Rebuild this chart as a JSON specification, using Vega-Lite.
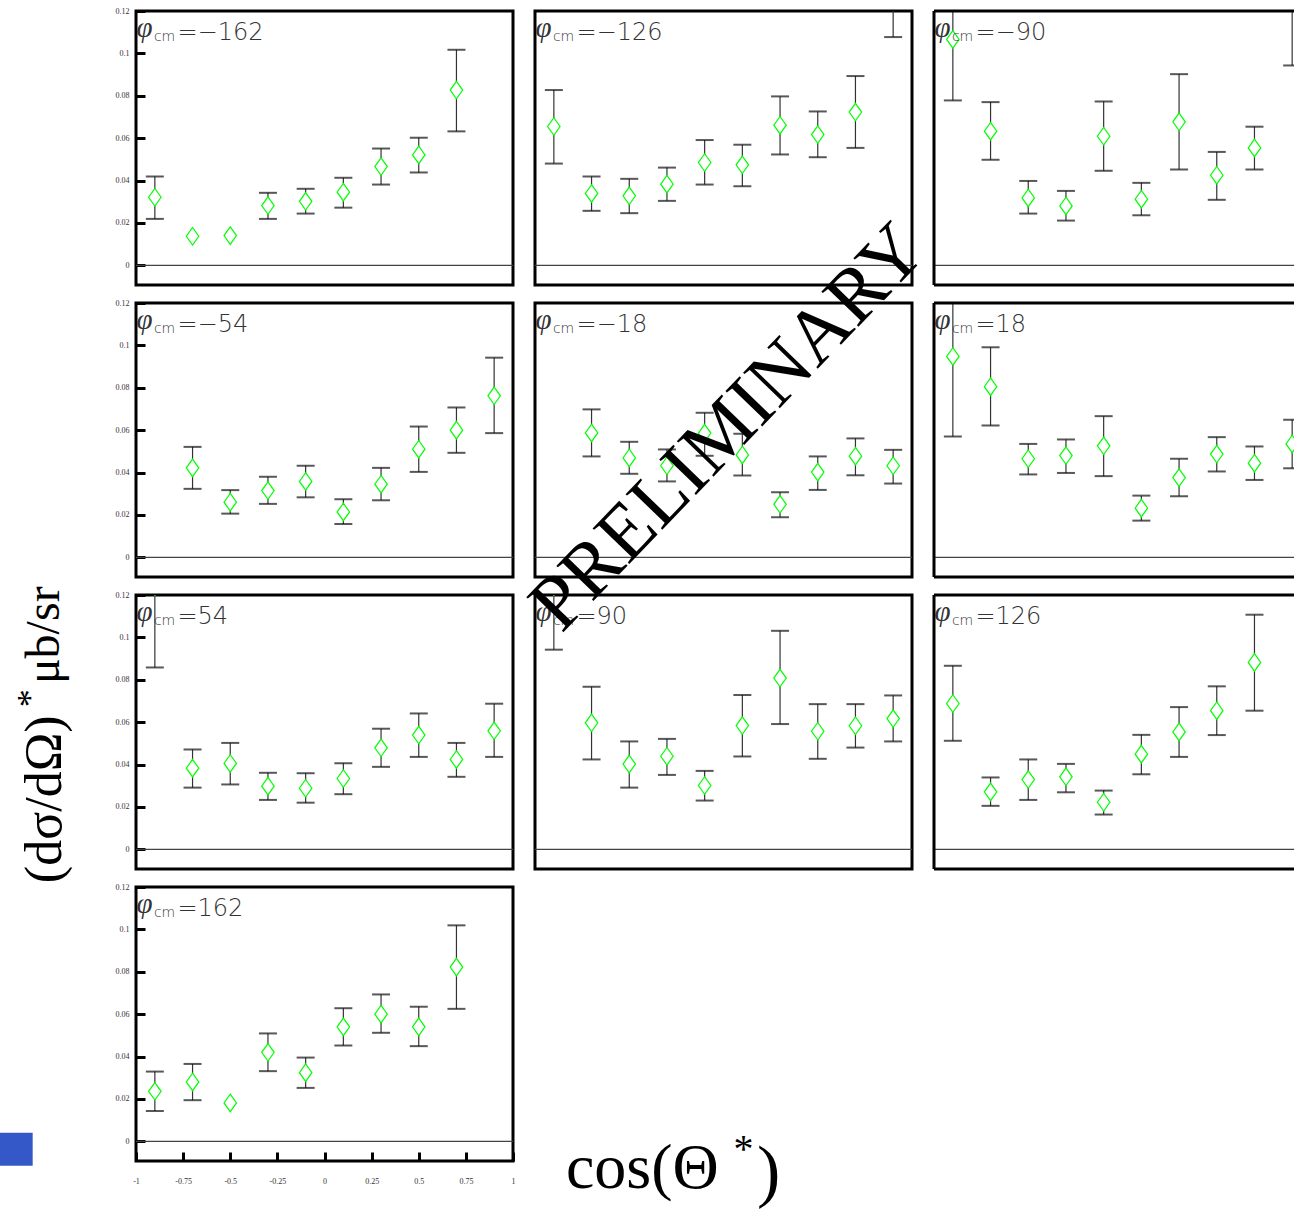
{
"$schema": "https://vega.github.io/schema/vega-lite/v6.json",
"background": "white",
"padding": {"left": -2, "top": 5, "right": 0, "bottom": 0},
"config": {"view": {"stroke": "#000", "strokeWidth": 3}},
"datasets": {"pts": [
{"phi": -162, "c": -0.9, "v": 0.0321, "lo": 0.0219, "hi": 0.0419},
{"phi": -162, "c": -0.7, "v": 0.0137, "lo": null, "hi": null},
{"phi": -162, "c": -0.5, "v": 0.014, "lo": null, "hi": null},
{"phi": -162, "c": -0.3, "v": 0.0282, "lo": 0.0219, "hi": 0.0342},
{"phi": -162, "c": -0.1, "v": 0.0302, "lo": 0.0244, "hi": 0.0361},
{"phi": -162, "c": 0.1, "v": 0.0345, "lo": 0.0272, "hi": 0.0413},
{"phi": -162, "c": 0.3, "v": 0.0466, "lo": 0.0381, "hi": 0.0551},
{"phi": -162, "c": 0.5, "v": 0.0521, "lo": 0.0438, "hi": 0.0602},
{"phi": -162, "c": 0.7, "v": 0.0827, "lo": 0.0632, "hi": 0.1017},
{"phi": -126, "c": -0.9, "v": 0.0655, "lo": 0.048, "hi": 0.0827},
{"phi": -126, "c": -0.7, "v": 0.0339, "lo": 0.0257, "hi": 0.0419},
{"phi": -126, "c": -0.5, "v": 0.0328, "lo": 0.0246, "hi": 0.0408},
{"phi": -126, "c": -0.3, "v": 0.0383, "lo": 0.0304, "hi": 0.0461},
{"phi": -126, "c": -0.1, "v": 0.0485, "lo": 0.0381, "hi": 0.0591},
{"phi": -126, "c": 0.1, "v": 0.0474, "lo": 0.0373, "hi": 0.0569},
{"phi": -126, "c": 0.3, "v": 0.0661, "lo": 0.0523, "hi": 0.0797},
{"phi": -126, "c": 0.5, "v": 0.0617, "lo": 0.051, "hi": 0.0726},
{"phi": -126, "c": 0.7, "v": 0.0723, "lo": 0.0554, "hi": 0.0893},
{"phi": -126, "c": 0.9, "v": 0.13, "lo": 0.1077, "hi": 0.152},
{"phi": -90, "c": -0.9, "v": 0.1066, "lo": 0.0778, "hi": 0.1354},
{"phi": -90, "c": -0.7, "v": 0.0633, "lo": 0.0498, "hi": 0.077},
{"phi": -90, "c": -0.5, "v": 0.0318, "lo": 0.0244, "hi": 0.0398},
{"phi": -90, "c": -0.3, "v": 0.028, "lo": 0.0211, "hi": 0.0351},
{"phi": -90, "c": -0.1, "v": 0.0609, "lo": 0.0446, "hi": 0.0773},
{"phi": -90, "c": 0.1, "v": 0.0312, "lo": 0.0236, "hi": 0.0389},
{"phi": -90, "c": 0.3, "v": 0.0677, "lo": 0.0452, "hi": 0.0902},
{"phi": -90, "c": 0.5, "v": 0.0425, "lo": 0.0309, "hi": 0.0535},
{"phi": -90, "c": 0.7, "v": 0.0554, "lo": 0.0452, "hi": 0.0654},
{"phi": -90, "c": 0.9, "v": 0.125, "lo": 0.0943, "hi": 0.1557},
{"phi": -54, "c": -0.7, "v": 0.0422, "lo": 0.0323, "hi": 0.0521},
{"phi": -54, "c": -0.5, "v": 0.026, "lo": 0.0206, "hi": 0.0317},
{"phi": -54, "c": -0.3, "v": 0.0315, "lo": 0.0252, "hi": 0.038},
{"phi": -54, "c": -0.1, "v": 0.0358, "lo": 0.0283, "hi": 0.0432},
{"phi": -54, "c": 0.1, "v": 0.0214, "lo": 0.0157, "hi": 0.0274},
{"phi": -54, "c": 0.3, "v": 0.0345, "lo": 0.0269, "hi": 0.0422},
{"phi": -54, "c": 0.5, "v": 0.051, "lo": 0.0403, "hi": 0.0617},
{"phi": -54, "c": 0.7, "v": 0.06, "lo": 0.0493, "hi": 0.0707},
{"phi": -54, "c": 0.9, "v": 0.0762, "lo": 0.0586, "hi": 0.0942},
{"phi": -18, "c": -0.7, "v": 0.0587, "lo": 0.0476, "hi": 0.0698},
{"phi": -18, "c": -0.5, "v": 0.0469, "lo": 0.0394, "hi": 0.0545},
{"phi": -18, "c": -0.3, "v": 0.0432, "lo": 0.0358, "hi": 0.0509},
{"phi": -18, "c": -0.1, "v": 0.0586, "lo": 0.0479, "hi": 0.0682},
{"phi": -18, "c": 0.1, "v": 0.0483, "lo": 0.0386, "hi": 0.0583},
{"phi": -18, "c": 0.3, "v": 0.025, "lo": 0.0189, "hi": 0.0307},
{"phi": -18, "c": 0.5, "v": 0.0402, "lo": 0.0318, "hi": 0.0476},
{"phi": -18, "c": 0.7, "v": 0.0477, "lo": 0.0387, "hi": 0.0561},
{"phi": -18, "c": 0.9, "v": 0.0432, "lo": 0.0348, "hi": 0.0507},
{"phi": 18, "c": -0.9, "v": 0.0948, "lo": 0.057, "hi": 0.1326},
{"phi": 18, "c": -0.7, "v": 0.0805, "lo": 0.0622, "hi": 0.0991},
{"phi": 18, "c": -0.5, "v": 0.0465, "lo": 0.0391, "hi": 0.0535},
{"phi": 18, "c": -0.3, "v": 0.048, "lo": 0.0398, "hi": 0.0556},
{"phi": 18, "c": -0.1, "v": 0.0526, "lo": 0.0383, "hi": 0.0666},
{"phi": 18, "c": 0.1, "v": 0.0232, "lo": 0.0173, "hi": 0.0291},
{"phi": 18, "c": 0.3, "v": 0.0376, "lo": 0.0288, "hi": 0.0465},
{"phi": 18, "c": 0.5, "v": 0.0487, "lo": 0.0405, "hi": 0.0567},
{"phi": 18, "c": 0.7, "v": 0.0444, "lo": 0.0365, "hi": 0.0523},
{"phi": 18, "c": 0.9, "v": 0.0535, "lo": 0.042, "hi": 0.0649},
{"phi": 54, "c": -0.9, "v": 0.124, "lo": 0.0858, "hi": 0.162},
{"phi": 54, "c": -0.7, "v": 0.0383, "lo": 0.0291, "hi": 0.0471},
{"phi": 54, "c": -0.5, "v": 0.0405, "lo": 0.0306, "hi": 0.0502},
{"phi": 54, "c": -0.3, "v": 0.0298, "lo": 0.0233, "hi": 0.0361},
{"phi": 54, "c": -0.1, "v": 0.0288, "lo": 0.022, "hi": 0.0359},
{"phi": 54, "c": 0.1, "v": 0.0334, "lo": 0.026, "hi": 0.0406},
{"phi": 54, "c": 0.3, "v": 0.0479, "lo": 0.0389, "hi": 0.0569},
{"phi": 54, "c": 0.5, "v": 0.0539, "lo": 0.0436, "hi": 0.0641},
{"phi": 54, "c": 0.7, "v": 0.0424, "lo": 0.0342, "hi": 0.0502},
{"phi": 54, "c": 0.9, "v": 0.0559, "lo": 0.0436, "hi": 0.0687},
{"phi": 90, "c": -0.9, "v": 0.124, "lo": 0.0942, "hi": 0.154},
{"phi": 90, "c": -0.7, "v": 0.0597, "lo": 0.0424, "hi": 0.0767},
{"phi": 90, "c": -0.5, "v": 0.0402, "lo": 0.0291, "hi": 0.0509},
{"phi": 90, "c": -0.3, "v": 0.0439, "lo": 0.0351, "hi": 0.0521},
{"phi": 90, "c": -0.1, "v": 0.0301, "lo": 0.023, "hi": 0.037},
{"phi": 90, "c": 0.1, "v": 0.0584, "lo": 0.0438, "hi": 0.0728},
{"phi": 90, "c": 0.3, "v": 0.0808, "lo": 0.0591, "hi": 0.1031},
{"phi": 90, "c": 0.5, "v": 0.0557, "lo": 0.0427, "hi": 0.0685},
{"phi": 90, "c": 0.7, "v": 0.0583, "lo": 0.048, "hi": 0.0685},
{"phi": 90, "c": 0.9, "v": 0.0617, "lo": 0.0509, "hi": 0.0726},
{"phi": 126, "c": -0.9, "v": 0.0688, "lo": 0.0512, "hi": 0.0866},
{"phi": 126, "c": -0.7, "v": 0.0271, "lo": 0.0205, "hi": 0.0339},
{"phi": 126, "c": -0.5, "v": 0.0329, "lo": 0.0233, "hi": 0.0424},
{"phi": 126, "c": -0.3, "v": 0.0342, "lo": 0.0269, "hi": 0.0403},
{"phi": 126, "c": -0.1, "v": 0.0222, "lo": 0.0164, "hi": 0.0277},
{"phi": 126, "c": 0.1, "v": 0.0449, "lo": 0.0354, "hi": 0.054},
{"phi": 126, "c": 0.3, "v": 0.0554, "lo": 0.0436, "hi": 0.0671},
{"phi": 126, "c": 0.5, "v": 0.0654, "lo": 0.0539, "hi": 0.0769},
{"phi": 126, "c": 0.7, "v": 0.0882, "lo": 0.0654, "hi": 0.1107},
{"phi": 162, "c": -0.9, "v": 0.0236, "lo": 0.0143, "hi": 0.0329},
{"phi": 162, "c": -0.7, "v": 0.028, "lo": 0.0194, "hi": 0.0365},
{"phi": 162, "c": -0.5, "v": 0.0181, "lo": null, "hi": null},
{"phi": 162, "c": -0.3, "v": 0.042, "lo": 0.0331, "hi": 0.0509},
{"phi": 162, "c": -0.1, "v": 0.0324, "lo": 0.0252, "hi": 0.0395},
{"phi": 162, "c": 0.1, "v": 0.054, "lo": 0.0452, "hi": 0.0628},
{"phi": 162, "c": 0.3, "v": 0.06, "lo": 0.0512, "hi": 0.0693},
{"phi": 162, "c": 0.5, "v": 0.054, "lo": 0.0449, "hi": 0.0635},
{"phi": 162, "c": 0.7, "v": 0.0822, "lo": 0.0625, "hi": 0.1019}
]},
"columns": 3,
"spacing": {"row": 18, "column": 22},
"bounds": "flush",
"concat": [
{"width": 377, "height": 274, "layer": [
 {"data": {"values": [{}]}, "mark": {"type": "rule", "color": "#444", "strokeWidth": 1.2, "clip": true},
  "encoding": {"x": {"datum": -1, "type": "quantitative", "scale": {"domain": [-1, 1], "nice": false, "zero": false}, "axis": null}, "x2": {"datum": 1},
   "y": {"datum": 0, "type": "quantitative", "scale": {"domain": [-0.0093, 0.12], "nice": false, "zero": false}, "axis": {"values": [0, 0.02, 0.04, 0.06, 0.08, 0.1, 0.12], "title": null, "domain": false, "grid": false, "tickSize": -9, "tickWidth": 3, "tickColor": "#000", "labelFont": "Liberation Serif", "labelFontSize": 8, "labelColor": "#333", "labelPadding": 16, "labelOverlap": false, "labelExpr": "'' + datum.value"}}}},
 {"data": {"name": "pts"}, "transform": [{"filter": "datum.phi == -162"}], "mark": {"type": "rule", "color": "#333", "strokeWidth": 1.2, "clip": true},
  "encoding": {"x": {"field": "c", "type": "quantitative", "scale": {"domain": [-1, 1], "nice": false, "zero": false}, "axis": null}, "y": {"field": "lo", "type": "quantitative", "scale": {"domain": [-0.0093, 0.12], "nice": false, "zero": false}, "axis": {"values": [0, 0.02, 0.04, 0.06, 0.08, 0.1, 0.12], "title": null, "domain": false, "grid": false, "tickSize": -9, "tickWidth": 3, "tickColor": "#000", "labelFont": "Liberation Serif", "labelFontSize": 8, "labelColor": "#333", "labelPadding": 16, "labelOverlap": false, "labelExpr": "'' + datum.value"}}, "y2": {"field": "hi"}}},
 {"data": {"name": "pts"}, "transform": [{"filter": "datum.phi == -162"}], "mark": {"type": "tick", "orient": "horizontal", "size": 18, "thickness": 2, "color": "#111", "clip": true},
  "encoding": {"x": {"field": "c", "type": "quantitative", "scale": {"domain": [-1, 1], "nice": false, "zero": false}, "axis": null}, "y": {"field": "lo", "type": "quantitative", "scale": {"domain": [-0.0093, 0.12], "nice": false, "zero": false}, "axis": {"values": [0, 0.02, 0.04, 0.06, 0.08, 0.1, 0.12], "title": null, "domain": false, "grid": false, "tickSize": -9, "tickWidth": 3, "tickColor": "#000", "labelFont": "Liberation Serif", "labelFontSize": 8, "labelColor": "#333", "labelPadding": 16, "labelOverlap": false, "labelExpr": "'' + datum.value"}}}},
 {"data": {"name": "pts"}, "transform": [{"filter": "datum.phi == -162"}], "mark": {"type": "tick", "orient": "horizontal", "size": 18, "thickness": 2, "color": "#111", "clip": true},
  "encoding": {"x": {"field": "c", "type": "quantitative", "scale": {"domain": [-1, 1], "nice": false, "zero": false}, "axis": null}, "y": {"field": "hi", "type": "quantitative", "scale": {"domain": [-0.0093, 0.12], "nice": false, "zero": false}, "axis": {"values": [0, 0.02, 0.04, 0.06, 0.08, 0.1, 0.12], "title": null, "domain": false, "grid": false, "tickSize": -9, "tickWidth": 3, "tickColor": "#000", "labelFont": "Liberation Serif", "labelFontSize": 8, "labelColor": "#333", "labelPadding": 16, "labelOverlap": false, "labelExpr": "'' + datum.value"}}}},
 {"data": {"name": "pts"}, "transform": [{"filter": "datum.phi == -162"}], "mark": {"type": "point", "shape": "M0,-1.4L1,0L0,1.4L-1,0Z", "size": 156, "filled": true, "fill": "white", "stroke": "#00ff00", "strokeWidth": 1.2, "opacity": 1, "clip": true},
  "encoding": {"x": {"field": "c", "type": "quantitative", "scale": {"domain": [-1, 1], "nice": false, "zero": false}, "axis": null}, "y": {"field": "v", "type": "quantitative", "scale": {"domain": [-0.0093, 0.12], "nice": false, "zero": false}, "axis": {"values": [0, 0.02, 0.04, 0.06, 0.08, 0.1, 0.12], "title": null, "domain": false, "grid": false, "tickSize": -9, "tickWidth": 3, "tickColor": "#000", "labelFont": "Liberation Serif", "labelFontSize": 8, "labelColor": "#333", "labelPadding": 16, "labelOverlap": false, "labelExpr": "'' + datum.value"}}}},
 {"data": {"values": [{}]}, "mark": {"type": "text", "text": "φ", "font": "Liberation Serif", "fontStyle": "italic", "fontSize": 29, "align": "left", "baseline": "alphabetic", "color": "#333"},
  "encoding": {"x": {"datum": -0.997, "type": "quantitative", "scale": {"domain": [-1, 1], "nice": false, "zero": false}, "axis": null}, "y": {"datum": 0.1075, "type": "quantitative", "scale": {"domain": [-0.0093, 0.12], "nice": false, "zero": false}, "axis": {"values": [0, 0.02, 0.04, 0.06, 0.08, 0.1, 0.12], "title": null, "domain": false, "grid": false, "tickSize": -9, "tickWidth": 3, "tickColor": "#000", "labelFont": "Liberation Serif", "labelFontSize": 8, "labelColor": "#333", "labelPadding": 16, "labelOverlap": false, "labelExpr": "'' + datum.value"}}}},
 {"data": {"values": [{}]}, "mark": {"type": "text", "text": "cm", "font": "DejaVu Sans", "fontWeight": 200, "fontSize": 14, "align": "left", "baseline": "alphabetic", "color": "#333"},
  "encoding": {"x": {"datum": -0.905, "type": "quantitative", "scale": {"domain": [-1, 1], "nice": false, "zero": false}, "axis": null}, "y": {"datum": 0.1058, "type": "quantitative", "scale": {"domain": [-0.0093, 0.12], "nice": false, "zero": false}, "axis": {"values": [0, 0.02, 0.04, 0.06, 0.08, 0.1, 0.12], "title": null, "domain": false, "grid": false, "tickSize": -9, "tickWidth": 3, "tickColor": "#000", "labelFont": "Liberation Serif", "labelFontSize": 8, "labelColor": "#333", "labelPadding": 16, "labelOverlap": false, "labelExpr": "'' + datum.value"}}}},
 {"data": {"values": [{}]}, "mark": {"type": "text", "text": "=−162", "font": "DejaVu Sans", "fontWeight": 200, "fontSize": 24, "align": "left", "baseline": "alphabetic", "color": "#333"},
  "encoding": {"x": {"datum": -0.78, "type": "quantitative", "scale": {"domain": [-1, 1], "nice": false, "zero": false}, "axis": null}, "y": {"datum": 0.1062, "type": "quantitative", "scale": {"domain": [-0.0093, 0.12], "nice": false, "zero": false}, "axis": {"values": [0, 0.02, 0.04, 0.06, 0.08, 0.1, 0.12], "title": null, "domain": false, "grid": false, "tickSize": -9, "tickWidth": 3, "tickColor": "#000", "labelFont": "Liberation Serif", "labelFontSize": 8, "labelColor": "#333", "labelPadding": 16, "labelOverlap": false, "labelExpr": "'' + datum.value"}}}}
]},
{"width": 377, "height": 274, "layer": [
 {"data": {"values": [{}]}, "mark": {"type": "rule", "color": "#444", "strokeWidth": 1.2, "clip": true},
  "encoding": {"x": {"datum": -1, "type": "quantitative", "scale": {"domain": [-1, 1], "nice": false, "zero": false}, "axis": null}, "x2": {"datum": 1},
   "y": {"datum": 0, "type": "quantitative", "scale": {"domain": [-0.0093, 0.12], "nice": false, "zero": false}, "axis": null}}},
 {"data": {"name": "pts"}, "transform": [{"filter": "datum.phi == -126"}], "mark": {"type": "rule", "color": "#333", "strokeWidth": 1.2, "clip": true},
  "encoding": {"x": {"field": "c", "type": "quantitative", "scale": {"domain": [-1, 1], "nice": false, "zero": false}, "axis": null}, "y": {"field": "lo", "type": "quantitative", "scale": {"domain": [-0.0093, 0.12], "nice": false, "zero": false}, "axis": null}, "y2": {"field": "hi"}}},
 {"data": {"name": "pts"}, "transform": [{"filter": "datum.phi == -126"}], "mark": {"type": "tick", "orient": "horizontal", "size": 18, "thickness": 2, "color": "#111", "clip": true},
  "encoding": {"x": {"field": "c", "type": "quantitative", "scale": {"domain": [-1, 1], "nice": false, "zero": false}, "axis": null}, "y": {"field": "lo", "type": "quantitative", "scale": {"domain": [-0.0093, 0.12], "nice": false, "zero": false}, "axis": null}}},
 {"data": {"name": "pts"}, "transform": [{"filter": "datum.phi == -126"}], "mark": {"type": "tick", "orient": "horizontal", "size": 18, "thickness": 2, "color": "#111", "clip": true},
  "encoding": {"x": {"field": "c", "type": "quantitative", "scale": {"domain": [-1, 1], "nice": false, "zero": false}, "axis": null}, "y": {"field": "hi", "type": "quantitative", "scale": {"domain": [-0.0093, 0.12], "nice": false, "zero": false}, "axis": null}}},
 {"data": {"name": "pts"}, "transform": [{"filter": "datum.phi == -126"}], "mark": {"type": "point", "shape": "M0,-1.4L1,0L0,1.4L-1,0Z", "size": 156, "filled": true, "fill": "white", "stroke": "#00ff00", "strokeWidth": 1.2, "opacity": 1, "clip": true},
  "encoding": {"x": {"field": "c", "type": "quantitative", "scale": {"domain": [-1, 1], "nice": false, "zero": false}, "axis": null}, "y": {"field": "v", "type": "quantitative", "scale": {"domain": [-0.0093, 0.12], "nice": false, "zero": false}, "axis": null}}},
 {"data": {"values": [{}]}, "mark": {"type": "text", "text": "φ", "font": "Liberation Serif", "fontStyle": "italic", "fontSize": 29, "align": "left", "baseline": "alphabetic", "color": "#333"},
  "encoding": {"x": {"datum": -0.997, "type": "quantitative", "scale": {"domain": [-1, 1], "nice": false, "zero": false}, "axis": null}, "y": {"datum": 0.1075, "type": "quantitative", "scale": {"domain": [-0.0093, 0.12], "nice": false, "zero": false}, "axis": null}}},
 {"data": {"values": [{}]}, "mark": {"type": "text", "text": "cm", "font": "DejaVu Sans", "fontWeight": 200, "fontSize": 14, "align": "left", "baseline": "alphabetic", "color": "#333"},
  "encoding": {"x": {"datum": -0.905, "type": "quantitative", "scale": {"domain": [-1, 1], "nice": false, "zero": false}, "axis": null}, "y": {"datum": 0.1058, "type": "quantitative", "scale": {"domain": [-0.0093, 0.12], "nice": false, "zero": false}, "axis": null}}},
 {"data": {"values": [{}]}, "mark": {"type": "text", "text": "=−126", "font": "DejaVu Sans", "fontWeight": 200, "fontSize": 24, "align": "left", "baseline": "alphabetic", "color": "#333"},
  "encoding": {"x": {"datum": -0.78, "type": "quantitative", "scale": {"domain": [-1, 1], "nice": false, "zero": false}, "axis": null}, "y": {"datum": 0.1062, "type": "quantitative", "scale": {"domain": [-0.0093, 0.12], "nice": false, "zero": false}, "axis": null}}}
]},
{"width": 361, "height": 274, "view": {"stroke": null}, "layer": [
 {"data": {"values": [{}]}, "mark": {"type": "rule", "color": "#444", "strokeWidth": 1.2, "clip": true},
  "encoding": {"x": {"datum": -1, "type": "quantitative", "scale": {"domain": [-1, 0.915], "nice": false, "zero": false}, "axis": null}, "x2": {"datum": 1},
   "y": {"datum": 0, "type": "quantitative", "scale": {"domain": [-0.0093, 0.12], "nice": false, "zero": false}, "axis": null}}},
 {"data": {"name": "pts"}, "transform": [{"filter": "datum.phi == -90"}], "mark": {"type": "rule", "color": "#333", "strokeWidth": 1.2, "clip": true},
  "encoding": {"x": {"field": "c", "type": "quantitative", "scale": {"domain": [-1, 0.915], "nice": false, "zero": false}, "axis": null}, "y": {"field": "lo", "type": "quantitative", "scale": {"domain": [-0.0093, 0.12], "nice": false, "zero": false}, "axis": null}, "y2": {"field": "hi"}}},
 {"data": {"name": "pts"}, "transform": [{"filter": "datum.phi == -90"}], "mark": {"type": "tick", "orient": "horizontal", "size": 18, "thickness": 2, "color": "#111", "clip": true},
  "encoding": {"x": {"field": "c", "type": "quantitative", "scale": {"domain": [-1, 0.915], "nice": false, "zero": false}, "axis": null}, "y": {"field": "lo", "type": "quantitative", "scale": {"domain": [-0.0093, 0.12], "nice": false, "zero": false}, "axis": null}}},
 {"data": {"name": "pts"}, "transform": [{"filter": "datum.phi == -90"}], "mark": {"type": "tick", "orient": "horizontal", "size": 18, "thickness": 2, "color": "#111", "clip": true},
  "encoding": {"x": {"field": "c", "type": "quantitative", "scale": {"domain": [-1, 0.915], "nice": false, "zero": false}, "axis": null}, "y": {"field": "hi", "type": "quantitative", "scale": {"domain": [-0.0093, 0.12], "nice": false, "zero": false}, "axis": null}}},
 {"data": {"name": "pts"}, "transform": [{"filter": "datum.phi == -90"}], "mark": {"type": "point", "shape": "M0,-1.4L1,0L0,1.4L-1,0Z", "size": 156, "filled": true, "fill": "white", "stroke": "#00ff00", "strokeWidth": 1.2, "opacity": 1, "clip": true},
  "encoding": {"x": {"field": "c", "type": "quantitative", "scale": {"domain": [-1, 0.915], "nice": false, "zero": false}, "axis": null}, "y": {"field": "v", "type": "quantitative", "scale": {"domain": [-0.0093, 0.12], "nice": false, "zero": false}, "axis": null}}},
 {"data": {"values": [{}]}, "mark": {"type": "text", "text": "φ", "font": "Liberation Serif", "fontStyle": "italic", "fontSize": 29, "align": "left", "baseline": "alphabetic", "color": "#333"},
  "encoding": {"x": {"datum": -0.997, "type": "quantitative", "scale": {"domain": [-1, 0.915], "nice": false, "zero": false}, "axis": null}, "y": {"datum": 0.1075, "type": "quantitative", "scale": {"domain": [-0.0093, 0.12], "nice": false, "zero": false}, "axis": null}}},
 {"data": {"values": [{}]}, "mark": {"type": "text", "text": "cm", "font": "DejaVu Sans", "fontWeight": 200, "fontSize": 14, "align": "left", "baseline": "alphabetic", "color": "#333"},
  "encoding": {"x": {"datum": -0.905, "type": "quantitative", "scale": {"domain": [-1, 0.915], "nice": false, "zero": false}, "axis": null}, "y": {"datum": 0.1058, "type": "quantitative", "scale": {"domain": [-0.0093, 0.12], "nice": false, "zero": false}, "axis": null}}},
 {"data": {"values": [{}]}, "mark": {"type": "text", "text": "=−90", "font": "DejaVu Sans", "fontWeight": 200, "fontSize": 24, "align": "left", "baseline": "alphabetic", "color": "#333"},
  "encoding": {"x": {"datum": -0.78, "type": "quantitative", "scale": {"domain": [-1, 0.915], "nice": false, "zero": false}, "axis": null}, "y": {"datum": 0.1062, "type": "quantitative", "scale": {"domain": [-0.0093, 0.12], "nice": false, "zero": false}, "axis": null}}},
 {"data": {"values": [{}]}, "mark": {"type": "rule", "color": "#000", "strokeWidth": 3},
  "encoding": {"y": {"datum": 0.12, "type": "quantitative", "scale": {"domain": [-0.0093, 0.12], "nice": false, "zero": false}, "axis": null}}},
 {"data": {"values": [{}]}, "mark": {"type": "rule", "color": "#000", "strokeWidth": 3},
  "encoding": {"y": {"datum": -0.0093, "type": "quantitative", "scale": {"domain": [-0.0093, 0.12], "nice": false, "zero": false}, "axis": null}}},
 {"data": {"values": [{}]}, "mark": {"type": "rule", "color": "#000", "strokeWidth": 3},
  "encoding": {"x": {"datum": -1, "type": "quantitative", "scale": {"domain": [-1, 0.915], "nice": false, "zero": false}, "axis": null}}}
]},
{"width": 377, "height": 274, "layer": [
 {"data": {"values": [{}]}, "mark": {"type": "rule", "color": "#444", "strokeWidth": 1.2, "clip": true},
  "encoding": {"x": {"datum": -1, "type": "quantitative", "scale": {"domain": [-1, 1], "nice": false, "zero": false}, "axis": null}, "x2": {"datum": 1},
   "y": {"datum": 0, "type": "quantitative", "scale": {"domain": [-0.0093, 0.12], "nice": false, "zero": false}, "axis": {"values": [0, 0.02, 0.04, 0.06, 0.08, 0.1, 0.12], "title": null, "domain": false, "grid": false, "tickSize": -9, "tickWidth": 3, "tickColor": "#000", "labelFont": "Liberation Serif", "labelFontSize": 8, "labelColor": "#333", "labelPadding": 16, "labelOverlap": false, "labelExpr": "'' + datum.value"}}}},
 {"data": {"name": "pts"}, "transform": [{"filter": "datum.phi == -54"}], "mark": {"type": "rule", "color": "#333", "strokeWidth": 1.2, "clip": true},
  "encoding": {"x": {"field": "c", "type": "quantitative", "scale": {"domain": [-1, 1], "nice": false, "zero": false}, "axis": null}, "y": {"field": "lo", "type": "quantitative", "scale": {"domain": [-0.0093, 0.12], "nice": false, "zero": false}, "axis": {"values": [0, 0.02, 0.04, 0.06, 0.08, 0.1, 0.12], "title": null, "domain": false, "grid": false, "tickSize": -9, "tickWidth": 3, "tickColor": "#000", "labelFont": "Liberation Serif", "labelFontSize": 8, "labelColor": "#333", "labelPadding": 16, "labelOverlap": false, "labelExpr": "'' + datum.value"}}, "y2": {"field": "hi"}}},
 {"data": {"name": "pts"}, "transform": [{"filter": "datum.phi == -54"}], "mark": {"type": "tick", "orient": "horizontal", "size": 18, "thickness": 2, "color": "#111", "clip": true},
  "encoding": {"x": {"field": "c", "type": "quantitative", "scale": {"domain": [-1, 1], "nice": false, "zero": false}, "axis": null}, "y": {"field": "lo", "type": "quantitative", "scale": {"domain": [-0.0093, 0.12], "nice": false, "zero": false}, "axis": {"values": [0, 0.02, 0.04, 0.06, 0.08, 0.1, 0.12], "title": null, "domain": false, "grid": false, "tickSize": -9, "tickWidth": 3, "tickColor": "#000", "labelFont": "Liberation Serif", "labelFontSize": 8, "labelColor": "#333", "labelPadding": 16, "labelOverlap": false, "labelExpr": "'' + datum.value"}}}},
 {"data": {"name": "pts"}, "transform": [{"filter": "datum.phi == -54"}], "mark": {"type": "tick", "orient": "horizontal", "size": 18, "thickness": 2, "color": "#111", "clip": true},
  "encoding": {"x": {"field": "c", "type": "quantitative", "scale": {"domain": [-1, 1], "nice": false, "zero": false}, "axis": null}, "y": {"field": "hi", "type": "quantitative", "scale": {"domain": [-0.0093, 0.12], "nice": false, "zero": false}, "axis": {"values": [0, 0.02, 0.04, 0.06, 0.08, 0.1, 0.12], "title": null, "domain": false, "grid": false, "tickSize": -9, "tickWidth": 3, "tickColor": "#000", "labelFont": "Liberation Serif", "labelFontSize": 8, "labelColor": "#333", "labelPadding": 16, "labelOverlap": false, "labelExpr": "'' + datum.value"}}}},
 {"data": {"name": "pts"}, "transform": [{"filter": "datum.phi == -54"}], "mark": {"type": "point", "shape": "M0,-1.4L1,0L0,1.4L-1,0Z", "size": 156, "filled": true, "fill": "white", "stroke": "#00ff00", "strokeWidth": 1.2, "opacity": 1, "clip": true},
  "encoding": {"x": {"field": "c", "type": "quantitative", "scale": {"domain": [-1, 1], "nice": false, "zero": false}, "axis": null}, "y": {"field": "v", "type": "quantitative", "scale": {"domain": [-0.0093, 0.12], "nice": false, "zero": false}, "axis": {"values": [0, 0.02, 0.04, 0.06, 0.08, 0.1, 0.12], "title": null, "domain": false, "grid": false, "tickSize": -9, "tickWidth": 3, "tickColor": "#000", "labelFont": "Liberation Serif", "labelFontSize": 8, "labelColor": "#333", "labelPadding": 16, "labelOverlap": false, "labelExpr": "'' + datum.value"}}}},
 {"data": {"values": [{}]}, "mark": {"type": "text", "text": "φ", "font": "Liberation Serif", "fontStyle": "italic", "fontSize": 29, "align": "left", "baseline": "alphabetic", "color": "#333"},
  "encoding": {"x": {"datum": -0.997, "type": "quantitative", "scale": {"domain": [-1, 1], "nice": false, "zero": false}, "axis": null}, "y": {"datum": 0.1075, "type": "quantitative", "scale": {"domain": [-0.0093, 0.12], "nice": false, "zero": false}, "axis": {"values": [0, 0.02, 0.04, 0.06, 0.08, 0.1, 0.12], "title": null, "domain": false, "grid": false, "tickSize": -9, "tickWidth": 3, "tickColor": "#000", "labelFont": "Liberation Serif", "labelFontSize": 8, "labelColor": "#333", "labelPadding": 16, "labelOverlap": false, "labelExpr": "'' + datum.value"}}}},
 {"data": {"values": [{}]}, "mark": {"type": "text", "text": "cm", "font": "DejaVu Sans", "fontWeight": 200, "fontSize": 14, "align": "left", "baseline": "alphabetic", "color": "#333"},
  "encoding": {"x": {"datum": -0.905, "type": "quantitative", "scale": {"domain": [-1, 1], "nice": false, "zero": false}, "axis": null}, "y": {"datum": 0.1058, "type": "quantitative", "scale": {"domain": [-0.0093, 0.12], "nice": false, "zero": false}, "axis": {"values": [0, 0.02, 0.04, 0.06, 0.08, 0.1, 0.12], "title": null, "domain": false, "grid": false, "tickSize": -9, "tickWidth": 3, "tickColor": "#000", "labelFont": "Liberation Serif", "labelFontSize": 8, "labelColor": "#333", "labelPadding": 16, "labelOverlap": false, "labelExpr": "'' + datum.value"}}}},
 {"data": {"values": [{}]}, "mark": {"type": "text", "text": "=−54", "font": "DejaVu Sans", "fontWeight": 200, "fontSize": 24, "align": "left", "baseline": "alphabetic", "color": "#333"},
  "encoding": {"x": {"datum": -0.78, "type": "quantitative", "scale": {"domain": [-1, 1], "nice": false, "zero": false}, "axis": null}, "y": {"datum": 0.1062, "type": "quantitative", "scale": {"domain": [-0.0093, 0.12], "nice": false, "zero": false}, "axis": {"values": [0, 0.02, 0.04, 0.06, 0.08, 0.1, 0.12], "title": null, "domain": false, "grid": false, "tickSize": -9, "tickWidth": 3, "tickColor": "#000", "labelFont": "Liberation Serif", "labelFontSize": 8, "labelColor": "#333", "labelPadding": 16, "labelOverlap": false, "labelExpr": "'' + datum.value"}}}}
]},
{"width": 377, "height": 274, "layer": [
 {"data": {"values": [{}]}, "mark": {"type": "rule", "color": "#444", "strokeWidth": 1.2, "clip": true},
  "encoding": {"x": {"datum": -1, "type": "quantitative", "scale": {"domain": [-1, 1], "nice": false, "zero": false}, "axis": null}, "x2": {"datum": 1},
   "y": {"datum": 0, "type": "quantitative", "scale": {"domain": [-0.0093, 0.12], "nice": false, "zero": false}, "axis": null}}},
 {"data": {"name": "pts"}, "transform": [{"filter": "datum.phi == -18"}], "mark": {"type": "rule", "color": "#333", "strokeWidth": 1.2, "clip": true},
  "encoding": {"x": {"field": "c", "type": "quantitative", "scale": {"domain": [-1, 1], "nice": false, "zero": false}, "axis": null}, "y": {"field": "lo", "type": "quantitative", "scale": {"domain": [-0.0093, 0.12], "nice": false, "zero": false}, "axis": null}, "y2": {"field": "hi"}}},
 {"data": {"name": "pts"}, "transform": [{"filter": "datum.phi == -18"}], "mark": {"type": "tick", "orient": "horizontal", "size": 18, "thickness": 2, "color": "#111", "clip": true},
  "encoding": {"x": {"field": "c", "type": "quantitative", "scale": {"domain": [-1, 1], "nice": false, "zero": false}, "axis": null}, "y": {"field": "lo", "type": "quantitative", "scale": {"domain": [-0.0093, 0.12], "nice": false, "zero": false}, "axis": null}}},
 {"data": {"name": "pts"}, "transform": [{"filter": "datum.phi == -18"}], "mark": {"type": "tick", "orient": "horizontal", "size": 18, "thickness": 2, "color": "#111", "clip": true},
  "encoding": {"x": {"field": "c", "type": "quantitative", "scale": {"domain": [-1, 1], "nice": false, "zero": false}, "axis": null}, "y": {"field": "hi", "type": "quantitative", "scale": {"domain": [-0.0093, 0.12], "nice": false, "zero": false}, "axis": null}}},
 {"data": {"name": "pts"}, "transform": [{"filter": "datum.phi == -18"}], "mark": {"type": "point", "shape": "M0,-1.4L1,0L0,1.4L-1,0Z", "size": 156, "filled": true, "fill": "white", "stroke": "#00ff00", "strokeWidth": 1.2, "opacity": 1, "clip": true},
  "encoding": {"x": {"field": "c", "type": "quantitative", "scale": {"domain": [-1, 1], "nice": false, "zero": false}, "axis": null}, "y": {"field": "v", "type": "quantitative", "scale": {"domain": [-0.0093, 0.12], "nice": false, "zero": false}, "axis": null}}},
 {"data": {"values": [{}]}, "mark": {"type": "text", "text": "φ", "font": "Liberation Serif", "fontStyle": "italic", "fontSize": 29, "align": "left", "baseline": "alphabetic", "color": "#333"},
  "encoding": {"x": {"datum": -0.997, "type": "quantitative", "scale": {"domain": [-1, 1], "nice": false, "zero": false}, "axis": null}, "y": {"datum": 0.1075, "type": "quantitative", "scale": {"domain": [-0.0093, 0.12], "nice": false, "zero": false}, "axis": null}}},
 {"data": {"values": [{}]}, "mark": {"type": "text", "text": "cm", "font": "DejaVu Sans", "fontWeight": 200, "fontSize": 14, "align": "left", "baseline": "alphabetic", "color": "#333"},
  "encoding": {"x": {"datum": -0.905, "type": "quantitative", "scale": {"domain": [-1, 1], "nice": false, "zero": false}, "axis": null}, "y": {"datum": 0.1058, "type": "quantitative", "scale": {"domain": [-0.0093, 0.12], "nice": false, "zero": false}, "axis": null}}},
 {"data": {"values": [{}]}, "mark": {"type": "text", "text": "=−18", "font": "DejaVu Sans", "fontWeight": 200, "fontSize": 24, "align": "left", "baseline": "alphabetic", "color": "#333"},
  "encoding": {"x": {"datum": -0.78, "type": "quantitative", "scale": {"domain": [-1, 1], "nice": false, "zero": false}, "axis": null}, "y": {"datum": 0.1062, "type": "quantitative", "scale": {"domain": [-0.0093, 0.12], "nice": false, "zero": false}, "axis": null}}}
]},
{"width": 361, "height": 274, "view": {"stroke": null}, "layer": [
 {"data": {"values": [{}]}, "mark": {"type": "rule", "color": "#444", "strokeWidth": 1.2, "clip": true},
  "encoding": {"x": {"datum": -1, "type": "quantitative", "scale": {"domain": [-1, 0.915], "nice": false, "zero": false}, "axis": null}, "x2": {"datum": 1},
   "y": {"datum": 0, "type": "quantitative", "scale": {"domain": [-0.0093, 0.12], "nice": false, "zero": false}, "axis": null}}},
 {"data": {"name": "pts"}, "transform": [{"filter": "datum.phi == 18"}], "mark": {"type": "rule", "color": "#333", "strokeWidth": 1.2, "clip": true},
  "encoding": {"x": {"field": "c", "type": "quantitative", "scale": {"domain": [-1, 0.915], "nice": false, "zero": false}, "axis": null}, "y": {"field": "lo", "type": "quantitative", "scale": {"domain": [-0.0093, 0.12], "nice": false, "zero": false}, "axis": null}, "y2": {"field": "hi"}}},
 {"data": {"name": "pts"}, "transform": [{"filter": "datum.phi == 18"}], "mark": {"type": "tick", "orient": "horizontal", "size": 18, "thickness": 2, "color": "#111", "clip": true},
  "encoding": {"x": {"field": "c", "type": "quantitative", "scale": {"domain": [-1, 0.915], "nice": false, "zero": false}, "axis": null}, "y": {"field": "lo", "type": "quantitative", "scale": {"domain": [-0.0093, 0.12], "nice": false, "zero": false}, "axis": null}}},
 {"data": {"name": "pts"}, "transform": [{"filter": "datum.phi == 18"}], "mark": {"type": "tick", "orient": "horizontal", "size": 18, "thickness": 2, "color": "#111", "clip": true},
  "encoding": {"x": {"field": "c", "type": "quantitative", "scale": {"domain": [-1, 0.915], "nice": false, "zero": false}, "axis": null}, "y": {"field": "hi", "type": "quantitative", "scale": {"domain": [-0.0093, 0.12], "nice": false, "zero": false}, "axis": null}}},
 {"data": {"name": "pts"}, "transform": [{"filter": "datum.phi == 18"}], "mark": {"type": "point", "shape": "M0,-1.4L1,0L0,1.4L-1,0Z", "size": 156, "filled": true, "fill": "white", "stroke": "#00ff00", "strokeWidth": 1.2, "opacity": 1, "clip": true},
  "encoding": {"x": {"field": "c", "type": "quantitative", "scale": {"domain": [-1, 0.915], "nice": false, "zero": false}, "axis": null}, "y": {"field": "v", "type": "quantitative", "scale": {"domain": [-0.0093, 0.12], "nice": false, "zero": false}, "axis": null}}},
 {"data": {"values": [{}]}, "mark": {"type": "text", "text": "φ", "font": "Liberation Serif", "fontStyle": "italic", "fontSize": 29, "align": "left", "baseline": "alphabetic", "color": "#333"},
  "encoding": {"x": {"datum": -0.997, "type": "quantitative", "scale": {"domain": [-1, 0.915], "nice": false, "zero": false}, "axis": null}, "y": {"datum": 0.1075, "type": "quantitative", "scale": {"domain": [-0.0093, 0.12], "nice": false, "zero": false}, "axis": null}}},
 {"data": {"values": [{}]}, "mark": {"type": "text", "text": "cm", "font": "DejaVu Sans", "fontWeight": 200, "fontSize": 14, "align": "left", "baseline": "alphabetic", "color": "#333"},
  "encoding": {"x": {"datum": -0.905, "type": "quantitative", "scale": {"domain": [-1, 0.915], "nice": false, "zero": false}, "axis": null}, "y": {"datum": 0.1058, "type": "quantitative", "scale": {"domain": [-0.0093, 0.12], "nice": false, "zero": false}, "axis": null}}},
 {"data": {"values": [{}]}, "mark": {"type": "text", "text": "=18", "font": "DejaVu Sans", "fontWeight": 200, "fontSize": 24, "align": "left", "baseline": "alphabetic", "color": "#333"},
  "encoding": {"x": {"datum": -0.78, "type": "quantitative", "scale": {"domain": [-1, 0.915], "nice": false, "zero": false}, "axis": null}, "y": {"datum": 0.1062, "type": "quantitative", "scale": {"domain": [-0.0093, 0.12], "nice": false, "zero": false}, "axis": null}}},
 {"data": {"values": [{}]}, "mark": {"type": "rule", "color": "#000", "strokeWidth": 3},
  "encoding": {"y": {"datum": 0.12, "type": "quantitative", "scale": {"domain": [-0.0093, 0.12], "nice": false, "zero": false}, "axis": null}}},
 {"data": {"values": [{}]}, "mark": {"type": "rule", "color": "#000", "strokeWidth": 3},
  "encoding": {"y": {"datum": -0.0093, "type": "quantitative", "scale": {"domain": [-0.0093, 0.12], "nice": false, "zero": false}, "axis": null}}},
 {"data": {"values": [{}]}, "mark": {"type": "rule", "color": "#000", "strokeWidth": 3},
  "encoding": {"x": {"datum": -1, "type": "quantitative", "scale": {"domain": [-1, 0.915], "nice": false, "zero": false}, "axis": null}}}
]},
{"width": 377, "height": 274, "layer": [
 {"data": {"values": [{}]}, "mark": {"type": "rule", "color": "#444", "strokeWidth": 1.2, "clip": true},
  "encoding": {"x": {"datum": -1, "type": "quantitative", "scale": {"domain": [-1, 1], "nice": false, "zero": false}, "axis": null}, "x2": {"datum": 1},
   "y": {"datum": 0, "type": "quantitative", "scale": {"domain": [-0.0093, 0.12], "nice": false, "zero": false}, "axis": {"values": [0, 0.02, 0.04, 0.06, 0.08, 0.1, 0.12], "title": null, "domain": false, "grid": false, "tickSize": -9, "tickWidth": 3, "tickColor": "#000", "labelFont": "Liberation Serif", "labelFontSize": 8, "labelColor": "#333", "labelPadding": 16, "labelOverlap": false, "labelExpr": "'' + datum.value"}}}},
 {"data": {"name": "pts"}, "transform": [{"filter": "datum.phi == 54"}], "mark": {"type": "rule", "color": "#333", "strokeWidth": 1.2, "clip": true},
  "encoding": {"x": {"field": "c", "type": "quantitative", "scale": {"domain": [-1, 1], "nice": false, "zero": false}, "axis": null}, "y": {"field": "lo", "type": "quantitative", "scale": {"domain": [-0.0093, 0.12], "nice": false, "zero": false}, "axis": {"values": [0, 0.02, 0.04, 0.06, 0.08, 0.1, 0.12], "title": null, "domain": false, "grid": false, "tickSize": -9, "tickWidth": 3, "tickColor": "#000", "labelFont": "Liberation Serif", "labelFontSize": 8, "labelColor": "#333", "labelPadding": 16, "labelOverlap": false, "labelExpr": "'' + datum.value"}}, "y2": {"field": "hi"}}},
 {"data": {"name": "pts"}, "transform": [{"filter": "datum.phi == 54"}], "mark": {"type": "tick", "orient": "horizontal", "size": 18, "thickness": 2, "color": "#111", "clip": true},
  "encoding": {"x": {"field": "c", "type": "quantitative", "scale": {"domain": [-1, 1], "nice": false, "zero": false}, "axis": null}, "y": {"field": "lo", "type": "quantitative", "scale": {"domain": [-0.0093, 0.12], "nice": false, "zero": false}, "axis": {"values": [0, 0.02, 0.04, 0.06, 0.08, 0.1, 0.12], "title": null, "domain": false, "grid": false, "tickSize": -9, "tickWidth": 3, "tickColor": "#000", "labelFont": "Liberation Serif", "labelFontSize": 8, "labelColor": "#333", "labelPadding": 16, "labelOverlap": false, "labelExpr": "'' + datum.value"}}}},
 {"data": {"name": "pts"}, "transform": [{"filter": "datum.phi == 54"}], "mark": {"type": "tick", "orient": "horizontal", "size": 18, "thickness": 2, "color": "#111", "clip": true},
  "encoding": {"x": {"field": "c", "type": "quantitative", "scale": {"domain": [-1, 1], "nice": false, "zero": false}, "axis": null}, "y": {"field": "hi", "type": "quantitative", "scale": {"domain": [-0.0093, 0.12], "nice": false, "zero": false}, "axis": {"values": [0, 0.02, 0.04, 0.06, 0.08, 0.1, 0.12], "title": null, "domain": false, "grid": false, "tickSize": -9, "tickWidth": 3, "tickColor": "#000", "labelFont": "Liberation Serif", "labelFontSize": 8, "labelColor": "#333", "labelPadding": 16, "labelOverlap": false, "labelExpr": "'' + datum.value"}}}},
 {"data": {"name": "pts"}, "transform": [{"filter": "datum.phi == 54"}], "mark": {"type": "point", "shape": "M0,-1.4L1,0L0,1.4L-1,0Z", "size": 156, "filled": true, "fill": "white", "stroke": "#00ff00", "strokeWidth": 1.2, "opacity": 1, "clip": true},
  "encoding": {"x": {"field": "c", "type": "quantitative", "scale": {"domain": [-1, 1], "nice": false, "zero": false}, "axis": null}, "y": {"field": "v", "type": "quantitative", "scale": {"domain": [-0.0093, 0.12], "nice": false, "zero": false}, "axis": {"values": [0, 0.02, 0.04, 0.06, 0.08, 0.1, 0.12], "title": null, "domain": false, "grid": false, "tickSize": -9, "tickWidth": 3, "tickColor": "#000", "labelFont": "Liberation Serif", "labelFontSize": 8, "labelColor": "#333", "labelPadding": 16, "labelOverlap": false, "labelExpr": "'' + datum.value"}}}},
 {"data": {"values": [{}]}, "mark": {"type": "text", "text": "φ", "font": "Liberation Serif", "fontStyle": "italic", "fontSize": 29, "align": "left", "baseline": "alphabetic", "color": "#333"},
  "encoding": {"x": {"datum": -0.997, "type": "quantitative", "scale": {"domain": [-1, 1], "nice": false, "zero": false}, "axis": null}, "y": {"datum": 0.1075, "type": "quantitative", "scale": {"domain": [-0.0093, 0.12], "nice": false, "zero": false}, "axis": {"values": [0, 0.02, 0.04, 0.06, 0.08, 0.1, 0.12], "title": null, "domain": false, "grid": false, "tickSize": -9, "tickWidth": 3, "tickColor": "#000", "labelFont": "Liberation Serif", "labelFontSize": 8, "labelColor": "#333", "labelPadding": 16, "labelOverlap": false, "labelExpr": "'' + datum.value"}}}},
 {"data": {"values": [{}]}, "mark": {"type": "text", "text": "cm", "font": "DejaVu Sans", "fontWeight": 200, "fontSize": 14, "align": "left", "baseline": "alphabetic", "color": "#333"},
  "encoding": {"x": {"datum": -0.905, "type": "quantitative", "scale": {"domain": [-1, 1], "nice": false, "zero": false}, "axis": null}, "y": {"datum": 0.1058, "type": "quantitative", "scale": {"domain": [-0.0093, 0.12], "nice": false, "zero": false}, "axis": {"values": [0, 0.02, 0.04, 0.06, 0.08, 0.1, 0.12], "title": null, "domain": false, "grid": false, "tickSize": -9, "tickWidth": 3, "tickColor": "#000", "labelFont": "Liberation Serif", "labelFontSize": 8, "labelColor": "#333", "labelPadding": 16, "labelOverlap": false, "labelExpr": "'' + datum.value"}}}},
 {"data": {"values": [{}]}, "mark": {"type": "text", "text": "=54", "font": "DejaVu Sans", "fontWeight": 200, "fontSize": 24, "align": "left", "baseline": "alphabetic", "color": "#333"},
  "encoding": {"x": {"datum": -0.78, "type": "quantitative", "scale": {"domain": [-1, 1], "nice": false, "zero": false}, "axis": null}, "y": {"datum": 0.1062, "type": "quantitative", "scale": {"domain": [-0.0093, 0.12], "nice": false, "zero": false}, "axis": {"values": [0, 0.02, 0.04, 0.06, 0.08, 0.1, 0.12], "title": null, "domain": false, "grid": false, "tickSize": -9, "tickWidth": 3, "tickColor": "#000", "labelFont": "Liberation Serif", "labelFontSize": 8, "labelColor": "#333", "labelPadding": 16, "labelOverlap": false, "labelExpr": "'' + datum.value"}}}}
]},
{"width": 377, "height": 274, "layer": [
 {"data": {"values": [{}]}, "mark": {"type": "rule", "color": "#444", "strokeWidth": 1.2, "clip": true},
  "encoding": {"x": {"datum": -1, "type": "quantitative", "scale": {"domain": [-1, 1], "nice": false, "zero": false}, "axis": null}, "x2": {"datum": 1},
   "y": {"datum": 0, "type": "quantitative", "scale": {"domain": [-0.0093, 0.12], "nice": false, "zero": false}, "axis": null}}},
 {"data": {"name": "pts"}, "transform": [{"filter": "datum.phi == 90"}], "mark": {"type": "rule", "color": "#333", "strokeWidth": 1.2, "clip": true},
  "encoding": {"x": {"field": "c", "type": "quantitative", "scale": {"domain": [-1, 1], "nice": false, "zero": false}, "axis": null}, "y": {"field": "lo", "type": "quantitative", "scale": {"domain": [-0.0093, 0.12], "nice": false, "zero": false}, "axis": null}, "y2": {"field": "hi"}}},
 {"data": {"name": "pts"}, "transform": [{"filter": "datum.phi == 90"}], "mark": {"type": "tick", "orient": "horizontal", "size": 18, "thickness": 2, "color": "#111", "clip": true},
  "encoding": {"x": {"field": "c", "type": "quantitative", "scale": {"domain": [-1, 1], "nice": false, "zero": false}, "axis": null}, "y": {"field": "lo", "type": "quantitative", "scale": {"domain": [-0.0093, 0.12], "nice": false, "zero": false}, "axis": null}}},
 {"data": {"name": "pts"}, "transform": [{"filter": "datum.phi == 90"}], "mark": {"type": "tick", "orient": "horizontal", "size": 18, "thickness": 2, "color": "#111", "clip": true},
  "encoding": {"x": {"field": "c", "type": "quantitative", "scale": {"domain": [-1, 1], "nice": false, "zero": false}, "axis": null}, "y": {"field": "hi", "type": "quantitative", "scale": {"domain": [-0.0093, 0.12], "nice": false, "zero": false}, "axis": null}}},
 {"data": {"name": "pts"}, "transform": [{"filter": "datum.phi == 90"}], "mark": {"type": "point", "shape": "M0,-1.4L1,0L0,1.4L-1,0Z", "size": 156, "filled": true, "fill": "white", "stroke": "#00ff00", "strokeWidth": 1.2, "opacity": 1, "clip": true},
  "encoding": {"x": {"field": "c", "type": "quantitative", "scale": {"domain": [-1, 1], "nice": false, "zero": false}, "axis": null}, "y": {"field": "v", "type": "quantitative", "scale": {"domain": [-0.0093, 0.12], "nice": false, "zero": false}, "axis": null}}},
 {"data": {"values": [{}]}, "mark": {"type": "text", "text": "φ", "font": "Liberation Serif", "fontStyle": "italic", "fontSize": 29, "align": "left", "baseline": "alphabetic", "color": "#333"},
  "encoding": {"x": {"datum": -0.997, "type": "quantitative", "scale": {"domain": [-1, 1], "nice": false, "zero": false}, "axis": null}, "y": {"datum": 0.1075, "type": "quantitative", "scale": {"domain": [-0.0093, 0.12], "nice": false, "zero": false}, "axis": null}}},
 {"data": {"values": [{}]}, "mark": {"type": "text", "text": "cm", "font": "DejaVu Sans", "fontWeight": 200, "fontSize": 14, "align": "left", "baseline": "alphabetic", "color": "#333"},
  "encoding": {"x": {"datum": -0.905, "type": "quantitative", "scale": {"domain": [-1, 1], "nice": false, "zero": false}, "axis": null}, "y": {"datum": 0.1058, "type": "quantitative", "scale": {"domain": [-0.0093, 0.12], "nice": false, "zero": false}, "axis": null}}},
 {"data": {"values": [{}]}, "mark": {"type": "text", "text": "=90", "font": "DejaVu Sans", "fontWeight": 200, "fontSize": 24, "align": "left", "baseline": "alphabetic", "color": "#333"},
  "encoding": {"x": {"datum": -0.78, "type": "quantitative", "scale": {"domain": [-1, 1], "nice": false, "zero": false}, "axis": null}, "y": {"datum": 0.1062, "type": "quantitative", "scale": {"domain": [-0.0093, 0.12], "nice": false, "zero": false}, "axis": null}}}
]},
{"width": 361, "height": 274, "view": {"stroke": null}, "layer": [
 {"data": {"values": [{}]}, "mark": {"type": "rule", "color": "#444", "strokeWidth": 1.2, "clip": true},
  "encoding": {"x": {"datum": -1, "type": "quantitative", "scale": {"domain": [-1, 0.915], "nice": false, "zero": false}, "axis": null}, "x2": {"datum": 1},
   "y": {"datum": 0, "type": "quantitative", "scale": {"domain": [-0.0093, 0.12], "nice": false, "zero": false}, "axis": null}}},
 {"data": {"name": "pts"}, "transform": [{"filter": "datum.phi == 126"}], "mark": {"type": "rule", "color": "#333", "strokeWidth": 1.2, "clip": true},
  "encoding": {"x": {"field": "c", "type": "quantitative", "scale": {"domain": [-1, 0.915], "nice": false, "zero": false}, "axis": null}, "y": {"field": "lo", "type": "quantitative", "scale": {"domain": [-0.0093, 0.12], "nice": false, "zero": false}, "axis": null}, "y2": {"field": "hi"}}},
 {"data": {"name": "pts"}, "transform": [{"filter": "datum.phi == 126"}], "mark": {"type": "tick", "orient": "horizontal", "size": 18, "thickness": 2, "color": "#111", "clip": true},
  "encoding": {"x": {"field": "c", "type": "quantitative", "scale": {"domain": [-1, 0.915], "nice": false, "zero": false}, "axis": null}, "y": {"field": "lo", "type": "quantitative", "scale": {"domain": [-0.0093, 0.12], "nice": false, "zero": false}, "axis": null}}},
 {"data": {"name": "pts"}, "transform": [{"filter": "datum.phi == 126"}], "mark": {"type": "tick", "orient": "horizontal", "size": 18, "thickness": 2, "color": "#111", "clip": true},
  "encoding": {"x": {"field": "c", "type": "quantitative", "scale": {"domain": [-1, 0.915], "nice": false, "zero": false}, "axis": null}, "y": {"field": "hi", "type": "quantitative", "scale": {"domain": [-0.0093, 0.12], "nice": false, "zero": false}, "axis": null}}},
 {"data": {"name": "pts"}, "transform": [{"filter": "datum.phi == 126"}], "mark": {"type": "point", "shape": "M0,-1.4L1,0L0,1.4L-1,0Z", "size": 156, "filled": true, "fill": "white", "stroke": "#00ff00", "strokeWidth": 1.2, "opacity": 1, "clip": true},
  "encoding": {"x": {"field": "c", "type": "quantitative", "scale": {"domain": [-1, 0.915], "nice": false, "zero": false}, "axis": null}, "y": {"field": "v", "type": "quantitative", "scale": {"domain": [-0.0093, 0.12], "nice": false, "zero": false}, "axis": null}}},
 {"data": {"values": [{}]}, "mark": {"type": "text", "text": "φ", "font": "Liberation Serif", "fontStyle": "italic", "fontSize": 29, "align": "left", "baseline": "alphabetic", "color": "#333"},
  "encoding": {"x": {"datum": -0.997, "type": "quantitative", "scale": {"domain": [-1, 0.915], "nice": false, "zero": false}, "axis": null}, "y": {"datum": 0.1075, "type": "quantitative", "scale": {"domain": [-0.0093, 0.12], "nice": false, "zero": false}, "axis": null}}},
 {"data": {"values": [{}]}, "mark": {"type": "text", "text": "cm", "font": "DejaVu Sans", "fontWeight": 200, "fontSize": 14, "align": "left", "baseline": "alphabetic", "color": "#333"},
  "encoding": {"x": {"datum": -0.905, "type": "quantitative", "scale": {"domain": [-1, 0.915], "nice": false, "zero": false}, "axis": null}, "y": {"datum": 0.1058, "type": "quantitative", "scale": {"domain": [-0.0093, 0.12], "nice": false, "zero": false}, "axis": null}}},
 {"data": {"values": [{}]}, "mark": {"type": "text", "text": "=126", "font": "DejaVu Sans", "fontWeight": 200, "fontSize": 24, "align": "left", "baseline": "alphabetic", "color": "#333"},
  "encoding": {"x": {"datum": -0.78, "type": "quantitative", "scale": {"domain": [-1, 0.915], "nice": false, "zero": false}, "axis": null}, "y": {"datum": 0.1062, "type": "quantitative", "scale": {"domain": [-0.0093, 0.12], "nice": false, "zero": false}, "axis": null}}},
 {"data": {"values": [{}]}, "mark": {"type": "rule", "color": "#000", "strokeWidth": 3},
  "encoding": {"y": {"datum": 0.12, "type": "quantitative", "scale": {"domain": [-0.0093, 0.12], "nice": false, "zero": false}, "axis": null}}},
 {"data": {"values": [{}]}, "mark": {"type": "rule", "color": "#000", "strokeWidth": 3},
  "encoding": {"y": {"datum": -0.0093, "type": "quantitative", "scale": {"domain": [-0.0093, 0.12], "nice": false, "zero": false}, "axis": null}}},
 {"data": {"values": [{}]}, "mark": {"type": "rule", "color": "#000", "strokeWidth": 3},
  "encoding": {"x": {"datum": -1, "type": "quantitative", "scale": {"domain": [-1, 0.915], "nice": false, "zero": false}, "axis": null}}}
]},
{"width": 377, "height": 274, "layer": [
 {"data": {"values": [{}]}, "mark": {"type": "rule", "color": "#444", "strokeWidth": 1.2, "clip": true},
  "encoding": {"x": {"datum": -1, "type": "quantitative", "scale": {"domain": [-1, 1], "nice": false, "zero": false}, "axis": {"values": [-1, -0.75, -0.5, -0.25, 0, 0.25, 0.5, 0.75, 1], "title": null, "domain": false, "grid": false, "tickSize": -9, "tickWidth": 3, "tickColor": "#000", "labelFont": "Liberation Serif", "labelFontSize": 8, "labelColor": "#333", "labelPadding": 25, "labelFlush": false, "labelOverlap": false, "labelExpr": "'' + datum.value"}}, "x2": {"datum": 1},
   "y": {"datum": 0, "type": "quantitative", "scale": {"domain": [-0.0093, 0.12], "nice": false, "zero": false}, "axis": {"values": [0, 0.02, 0.04, 0.06, 0.08, 0.1, 0.12], "title": null, "domain": false, "grid": false, "tickSize": -9, "tickWidth": 3, "tickColor": "#000", "labelFont": "Liberation Serif", "labelFontSize": 8, "labelColor": "#333", "labelPadding": 16, "labelOverlap": false, "labelExpr": "'' + datum.value"}}}},
 {"data": {"name": "pts"}, "transform": [{"filter": "datum.phi == 162"}], "mark": {"type": "rule", "color": "#333", "strokeWidth": 1.2, "clip": true},
  "encoding": {"x": {"field": "c", "type": "quantitative", "scale": {"domain": [-1, 1], "nice": false, "zero": false}, "axis": {"values": [-1, -0.75, -0.5, -0.25, 0, 0.25, 0.5, 0.75, 1], "title": null, "domain": false, "grid": false, "tickSize": -9, "tickWidth": 3, "tickColor": "#000", "labelFont": "Liberation Serif", "labelFontSize": 8, "labelColor": "#333", "labelPadding": 25, "labelFlush": false, "labelOverlap": false, "labelExpr": "'' + datum.value"}}, "y": {"field": "lo", "type": "quantitative", "scale": {"domain": [-0.0093, 0.12], "nice": false, "zero": false}, "axis": {"values": [0, 0.02, 0.04, 0.06, 0.08, 0.1, 0.12], "title": null, "domain": false, "grid": false, "tickSize": -9, "tickWidth": 3, "tickColor": "#000", "labelFont": "Liberation Serif", "labelFontSize": 8, "labelColor": "#333", "labelPadding": 16, "labelOverlap": false, "labelExpr": "'' + datum.value"}}, "y2": {"field": "hi"}}},
 {"data": {"name": "pts"}, "transform": [{"filter": "datum.phi == 162"}], "mark": {"type": "tick", "orient": "horizontal", "size": 18, "thickness": 2, "color": "#111", "clip": true},
  "encoding": {"x": {"field": "c", "type": "quantitative", "scale": {"domain": [-1, 1], "nice": false, "zero": false}, "axis": {"values": [-1, -0.75, -0.5, -0.25, 0, 0.25, 0.5, 0.75, 1], "title": null, "domain": false, "grid": false, "tickSize": -9, "tickWidth": 3, "tickColor": "#000", "labelFont": "Liberation Serif", "labelFontSize": 8, "labelColor": "#333", "labelPadding": 25, "labelFlush": false, "labelOverlap": false, "labelExpr": "'' + datum.value"}}, "y": {"field": "lo", "type": "quantitative", "scale": {"domain": [-0.0093, 0.12], "nice": false, "zero": false}, "axis": {"values": [0, 0.02, 0.04, 0.06, 0.08, 0.1, 0.12], "title": null, "domain": false, "grid": false, "tickSize": -9, "tickWidth": 3, "tickColor": "#000", "labelFont": "Liberation Serif", "labelFontSize": 8, "labelColor": "#333", "labelPadding": 16, "labelOverlap": false, "labelExpr": "'' + datum.value"}}}},
 {"data": {"name": "pts"}, "transform": [{"filter": "datum.phi == 162"}], "mark": {"type": "tick", "orient": "horizontal", "size": 18, "thickness": 2, "color": "#111", "clip": true},
  "encoding": {"x": {"field": "c", "type": "quantitative", "scale": {"domain": [-1, 1], "nice": false, "zero": false}, "axis": {"values": [-1, -0.75, -0.5, -0.25, 0, 0.25, 0.5, 0.75, 1], "title": null, "domain": false, "grid": false, "tickSize": -9, "tickWidth": 3, "tickColor": "#000", "labelFont": "Liberation Serif", "labelFontSize": 8, "labelColor": "#333", "labelPadding": 25, "labelFlush": false, "labelOverlap": false, "labelExpr": "'' + datum.value"}}, "y": {"field": "hi", "type": "quantitative", "scale": {"domain": [-0.0093, 0.12], "nice": false, "zero": false}, "axis": {"values": [0, 0.02, 0.04, 0.06, 0.08, 0.1, 0.12], "title": null, "domain": false, "grid": false, "tickSize": -9, "tickWidth": 3, "tickColor": "#000", "labelFont": "Liberation Serif", "labelFontSize": 8, "labelColor": "#333", "labelPadding": 16, "labelOverlap": false, "labelExpr": "'' + datum.value"}}}},
 {"data": {"name": "pts"}, "transform": [{"filter": "datum.phi == 162"}], "mark": {"type": "point", "shape": "M0,-1.4L1,0L0,1.4L-1,0Z", "size": 156, "filled": true, "fill": "white", "stroke": "#00ff00", "strokeWidth": 1.2, "opacity": 1, "clip": true},
  "encoding": {"x": {"field": "c", "type": "quantitative", "scale": {"domain": [-1, 1], "nice": false, "zero": false}, "axis": {"values": [-1, -0.75, -0.5, -0.25, 0, 0.25, 0.5, 0.75, 1], "title": null, "domain": false, "grid": false, "tickSize": -9, "tickWidth": 3, "tickColor": "#000", "labelFont": "Liberation Serif", "labelFontSize": 8, "labelColor": "#333", "labelPadding": 25, "labelFlush": false, "labelOverlap": false, "labelExpr": "'' + datum.value"}}, "y": {"field": "v", "type": "quantitative", "scale": {"domain": [-0.0093, 0.12], "nice": false, "zero": false}, "axis": {"values": [0, 0.02, 0.04, 0.06, 0.08, 0.1, 0.12], "title": null, "domain": false, "grid": false, "tickSize": -9, "tickWidth": 3, "tickColor": "#000", "labelFont": "Liberation Serif", "labelFontSize": 8, "labelColor": "#333", "labelPadding": 16, "labelOverlap": false, "labelExpr": "'' + datum.value"}}}},
 {"data": {"values": [{}]}, "mark": {"type": "text", "text": "φ", "font": "Liberation Serif", "fontStyle": "italic", "fontSize": 29, "align": "left", "baseline": "alphabetic", "color": "#333"},
  "encoding": {"x": {"datum": -0.997, "type": "quantitative", "scale": {"domain": [-1, 1], "nice": false, "zero": false}, "axis": {"values": [-1, -0.75, -0.5, -0.25, 0, 0.25, 0.5, 0.75, 1], "title": null, "domain": false, "grid": false, "tickSize": -9, "tickWidth": 3, "tickColor": "#000", "labelFont": "Liberation Serif", "labelFontSize": 8, "labelColor": "#333", "labelPadding": 25, "labelFlush": false, "labelOverlap": false, "labelExpr": "'' + datum.value"}}, "y": {"datum": 0.1075, "type": "quantitative", "scale": {"domain": [-0.0093, 0.12], "nice": false, "zero": false}, "axis": {"values": [0, 0.02, 0.04, 0.06, 0.08, 0.1, 0.12], "title": null, "domain": false, "grid": false, "tickSize": -9, "tickWidth": 3, "tickColor": "#000", "labelFont": "Liberation Serif", "labelFontSize": 8, "labelColor": "#333", "labelPadding": 16, "labelOverlap": false, "labelExpr": "'' + datum.value"}}}},
 {"data": {"values": [{}]}, "mark": {"type": "text", "text": "cm", "font": "DejaVu Sans", "fontWeight": 200, "fontSize": 14, "align": "left", "baseline": "alphabetic", "color": "#333"},
  "encoding": {"x": {"datum": -0.905, "type": "quantitative", "scale": {"domain": [-1, 1], "nice": false, "zero": false}, "axis": {"values": [-1, -0.75, -0.5, -0.25, 0, 0.25, 0.5, 0.75, 1], "title": null, "domain": false, "grid": false, "tickSize": -9, "tickWidth": 3, "tickColor": "#000", "labelFont": "Liberation Serif", "labelFontSize": 8, "labelColor": "#333", "labelPadding": 25, "labelFlush": false, "labelOverlap": false, "labelExpr": "'' + datum.value"}}, "y": {"datum": 0.1058, "type": "quantitative", "scale": {"domain": [-0.0093, 0.12], "nice": false, "zero": false}, "axis": {"values": [0, 0.02, 0.04, 0.06, 0.08, 0.1, 0.12], "title": null, "domain": false, "grid": false, "tickSize": -9, "tickWidth": 3, "tickColor": "#000", "labelFont": "Liberation Serif", "labelFontSize": 8, "labelColor": "#333", "labelPadding": 16, "labelOverlap": false, "labelExpr": "'' + datum.value"}}}},
 {"data": {"values": [{}]}, "mark": {"type": "text", "text": "=162", "font": "DejaVu Sans", "fontWeight": 200, "fontSize": 24, "align": "left", "baseline": "alphabetic", "color": "#333"},
  "encoding": {"x": {"datum": -0.78, "type": "quantitative", "scale": {"domain": [-1, 1], "nice": false, "zero": false}, "axis": {"values": [-1, -0.75, -0.5, -0.25, 0, 0.25, 0.5, 0.75, 1], "title": null, "domain": false, "grid": false, "tickSize": -9, "tickWidth": 3, "tickColor": "#000", "labelFont": "Liberation Serif", "labelFontSize": 8, "labelColor": "#333", "labelPadding": 25, "labelFlush": false, "labelOverlap": false, "labelExpr": "'' + datum.value"}}, "y": {"datum": 0.1062, "type": "quantitative", "scale": {"domain": [-0.0093, 0.12], "nice": false, "zero": false}, "axis": {"values": [0, 0.02, 0.04, 0.06, 0.08, 0.1, 0.12], "title": null, "domain": false, "grid": false, "tickSize": -9, "tickWidth": 3, "tickColor": "#000", "labelFont": "Liberation Serif", "labelFontSize": 8, "labelColor": "#333", "labelPadding": 16, "labelOverlap": false, "labelExpr": "'' + datum.value"}}}},
 {"data": {"values": [{}]}, "mark": {"type": "text", "text": "PRELIMINARY", "font": "Liberation Serif", "fontSize": 78, "angle": 314, "align": "center", "baseline": "middle", "color": "#000"},
  "encoding": {"x": {"datum": 2.1436, "type": "quantitative", "scale": {"domain": [-1, 1], "nice": false, "zero": false}, "axis": {"values": [-1, -0.75, -0.5, -0.25, 0, 0.25, 0.5, 0.75, 1], "title": null, "domain": false, "grid": false, "tickSize": -9, "tickWidth": 3, "tickColor": "#000", "labelFont": "Liberation Serif", "labelFontSize": 8, "labelColor": "#333", "labelPadding": 25, "labelFlush": false, "labelOverlap": false, "labelExpr": "'' + datum.value"}}, "y": {"datum": 0.3366, "type": "quantitative", "scale": {"domain": [-0.0093, 0.12], "nice": false, "zero": false}, "axis": {"values": [0, 0.02, 0.04, 0.06, 0.08, 0.1, 0.12], "title": null, "domain": false, "grid": false, "tickSize": -9, "tickWidth": 3, "tickColor": "#000", "labelFont": "Liberation Serif", "labelFontSize": 8, "labelColor": "#333", "labelPadding": 16, "labelOverlap": false, "labelExpr": "'' + datum.value"}}}},
 {"data": {"values": [{}]}, "mark": {"type": "text", "text": "(dσ/dΩ)", "font": "Liberation Serif", "fontSize": 52, "angle": 270, "align": "center", "baseline": "middle", "color": "#000"},
  "encoding": {"x": {"datum": -1.484, "type": "quantitative", "scale": {"domain": [-1, 1], "nice": false, "zero": false}, "axis": {"values": [-1, -0.75, -0.5, -0.25, 0, 0.25, 0.5, 0.75, 1], "title": null, "domain": false, "grid": false, "tickSize": -9, "tickWidth": 3, "tickColor": "#000", "labelFont": "Liberation Serif", "labelFontSize": 8, "labelColor": "#333", "labelPadding": 25, "labelFlush": false, "labelOverlap": false, "labelExpr": "'' + datum.value"}}, "y": {"datum": 0.1614, "type": "quantitative", "scale": {"domain": [-0.0093, 0.12], "nice": false, "zero": false}, "axis": {"values": [0, 0.02, 0.04, 0.06, 0.08, 0.1, 0.12], "title": null, "domain": false, "grid": false, "tickSize": -9, "tickWidth": 3, "tickColor": "#000", "labelFont": "Liberation Serif", "labelFontSize": 8, "labelColor": "#333", "labelPadding": 16, "labelOverlap": false, "labelExpr": "'' + datum.value"}}}},
 {"data": {"values": [{}]}, "mark": {"type": "text", "text": "*", "font": "Liberation Serif", "fontSize": 36, "angle": 270, "align": "center", "baseline": "middle", "color": "#000"},
  "encoding": {"x": {"datum": -1.5585, "type": "quantitative", "scale": {"domain": [-1, 1], "nice": false, "zero": false}, "axis": {"values": [-1, -0.75, -0.5, -0.25, 0, 0.25, 0.5, 0.75, 1], "title": null, "domain": false, "grid": false, "tickSize": -9, "tickWidth": 3, "tickColor": "#000", "labelFont": "Liberation Serif", "labelFontSize": 8, "labelColor": "#333", "labelPadding": 25, "labelFlush": false, "labelOverlap": false, "labelExpr": "'' + datum.value"}}, "y": {"datum": 0.2091, "type": "quantitative", "scale": {"domain": [-0.0093, 0.12], "nice": false, "zero": false}, "axis": {"values": [0, 0.02, 0.04, 0.06, 0.08, 0.1, 0.12], "title": null, "domain": false, "grid": false, "tickSize": -9, "tickWidth": 3, "tickColor": "#000", "labelFont": "Liberation Serif", "labelFontSize": 8, "labelColor": "#333", "labelPadding": 16, "labelOverlap": false, "labelExpr": "'' + datum.value"}}}},
 {"data": {"values": [{}]}, "mark": {"type": "text", "text": "μb/sr", "font": "Liberation Serif", "fontSize": 48, "angle": 270, "align": "center", "baseline": "middle", "color": "#000"},
  "encoding": {"x": {"datum": -1.484, "type": "quantitative", "scale": {"domain": [-1, 1], "nice": false, "zero": false}, "axis": {"values": [-1, -0.75, -0.5, -0.25, 0, 0.25, 0.5, 0.75, 1], "title": null, "domain": false, "grid": false, "tickSize": -9, "tickWidth": 3, "tickColor": "#000", "labelFont": "Liberation Serif", "labelFontSize": 8, "labelColor": "#333", "labelPadding": 25, "labelFlush": false, "labelOverlap": false, "labelExpr": "'' + datum.value"}}, "y": {"datum": 0.2388, "type": "quantitative", "scale": {"domain": [-0.0093, 0.12], "nice": false, "zero": false}, "axis": {"values": [0, 0.02, 0.04, 0.06, 0.08, 0.1, 0.12], "title": null, "domain": false, "grid": false, "tickSize": -9, "tickWidth": 3, "tickColor": "#000", "labelFont": "Liberation Serif", "labelFontSize": 8, "labelColor": "#333", "labelPadding": 16, "labelOverlap": false, "labelExpr": "'' + datum.value"}}}},
 {"data": {"values": [{}]}, "mark": {"type": "text", "text": "cos(Θ", "font": "Liberation Serif", "fontSize": 64, "align": "center", "baseline": "alphabetic", "color": "#000"},
  "encoding": {"x": {"datum": 1.686, "type": "quantitative", "scale": {"domain": [-1, 1], "nice": false, "zero": false}, "axis": {"values": [-1, -0.75, -0.5, -0.25, 0, 0.25, 0.5, 0.75, 1], "title": null, "domain": false, "grid": false, "tickSize": -9, "tickWidth": 3, "tickColor": "#000", "labelFont": "Liberation Serif", "labelFontSize": 8, "labelColor": "#333", "labelPadding": 25, "labelFlush": false, "labelOverlap": false, "labelExpr": "'' + datum.value"}}, "y": {"datum": -0.022, "type": "quantitative", "scale": {"domain": [-0.0093, 0.12], "nice": false, "zero": false}, "axis": {"values": [0, 0.02, 0.04, 0.06, 0.08, 0.1, 0.12], "title": null, "domain": false, "grid": false, "tickSize": -9, "tickWidth": 3, "tickColor": "#000", "labelFont": "Liberation Serif", "labelFontSize": 8, "labelColor": "#333", "labelPadding": 16, "labelOverlap": false, "labelExpr": "'' + datum.value"}}}},
 {"data": {"values": [{}]}, "mark": {"type": "text", "text": "*", "font": "Liberation Serif", "fontSize": 40, "align": "center", "baseline": "alphabetic", "color": "#000"},
  "encoding": {"x": {"datum": 2.223, "type": "quantitative", "scale": {"domain": [-1, 1], "nice": false, "zero": false}, "axis": {"values": [-1, -0.75, -0.5, -0.25, 0, 0.25, 0.5, 0.75, 1], "title": null, "domain": false, "grid": false, "tickSize": -9, "tickWidth": 3, "tickColor": "#000", "labelFont": "Liberation Serif", "labelFontSize": 8, "labelColor": "#333", "labelPadding": 25, "labelFlush": false, "labelOverlap": false, "labelExpr": "'' + datum.value"}}, "y": {"datum": -0.01, "type": "quantitative", "scale": {"domain": [-0.0093, 0.12], "nice": false, "zero": false}, "axis": {"values": [0, 0.02, 0.04, 0.06, 0.08, 0.1, 0.12], "title": null, "domain": false, "grid": false, "tickSize": -9, "tickWidth": 3, "tickColor": "#000", "labelFont": "Liberation Serif", "labelFontSize": 8, "labelColor": "#333", "labelPadding": 16, "labelOverlap": false, "labelExpr": "'' + datum.value"}}}},
 {"data": {"values": [{}]}, "mark": {"type": "text", "text": ")", "font": "Liberation Serif", "fontSize": 70, "align": "center", "baseline": "alphabetic", "color": "#000"},
  "encoding": {"x": {"datum": 2.356, "type": "quantitative", "scale": {"domain": [-1, 1], "nice": false, "zero": false}, "axis": {"values": [-1, -0.75, -0.5, -0.25, 0, 0.25, 0.5, 0.75, 1], "title": null, "domain": false, "grid": false, "tickSize": -9, "tickWidth": 3, "tickColor": "#000", "labelFont": "Liberation Serif", "labelFontSize": 8, "labelColor": "#333", "labelPadding": 25, "labelFlush": false, "labelOverlap": false, "labelExpr": "'' + datum.value"}}, "y": {"datum": -0.025, "type": "quantitative", "scale": {"domain": [-0.0093, 0.12], "nice": false, "zero": false}, "axis": {"values": [0, 0.02, 0.04, 0.06, 0.08, 0.1, 0.12], "title": null, "domain": false, "grid": false, "tickSize": -9, "tickWidth": 3, "tickColor": "#000", "labelFont": "Liberation Serif", "labelFontSize": 8, "labelColor": "#333", "labelPadding": 16, "labelOverlap": false, "labelExpr": "'' + datum.value"}}}},
 {"data": {"values": [{}]}, "mark": {"type": "point", "shape": "square", "size": 1089, "filled": true, "fill": "#3558c8", "strokeWidth": 0, "opacity": 1},
  "encoding": {"x": {"datum": -1.6356, "type": "quantitative", "scale": {"domain": [-1, 1], "nice": false, "zero": false}, "axis": {"values": [-1, -0.75, -0.5, -0.25, 0, 0.25, 0.5, 0.75, 1], "title": null, "domain": false, "grid": false, "tickSize": -9, "tickWidth": 3, "tickColor": "#000", "labelFont": "Liberation Serif", "labelFontSize": 8, "labelColor": "#333", "labelPadding": 25, "labelFlush": false, "labelOverlap": false, "labelExpr": "'' + datum.value"}}, "y": {"datum": -0.00378, "type": "quantitative", "scale": {"domain": [-0.0093, 0.12], "nice": false, "zero": false}, "axis": {"values": [0, 0.02, 0.04, 0.06, 0.08, 0.1, 0.12], "title": null, "domain": false, "grid": false, "tickSize": -9, "tickWidth": 3, "tickColor": "#000", "labelFont": "Liberation Serif", "labelFontSize": 8, "labelColor": "#333", "labelPadding": 16, "labelOverlap": false, "labelExpr": "'' + datum.value"}}}}
]}
]
}
